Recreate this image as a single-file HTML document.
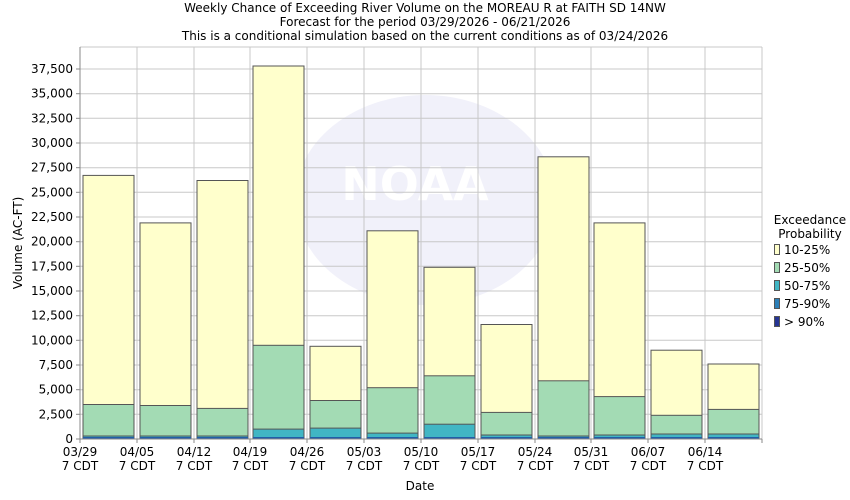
<!DOCTYPE html>
<html><head><meta charset="utf-8"><style>
html,body{margin:0;padding:0;background:#fff;}
svg{display:block;font-family:"DejaVu Sans","Liberation Sans",sans-serif;}
</style></head><body>
<svg width="850" height="500" viewBox="0 0 850 500" xmlns="http://www.w3.org/2000/svg">
<rect width="850" height="500" fill="#fff"/>
<g font-size="12" fill="#000" text-anchor="middle">
<text x="425" y="12">Weekly Chance of Exceeding River Volume on the MOREAU R at FAITH SD 14NW</text>
<text x="425" y="26">Forecast for the period 03/29/2026 - 06/21/2026</text>
<text x="425" y="40">This is a conditional simulation based on the current conditions as of 03/24/2026</text>
</g>
<!-- watermark -->
<g opacity="0.5">
<ellipse cx="425" cy="200" rx="130" ry="105" fill="#e4e4f6"/>
<text x="415" y="200" font-size="46" font-weight="bold" fill="#fff" text-anchor="middle">NOAA</text>
</g>
<!-- grid -->
<g stroke="#c8c8c8" stroke-width="1">
<line x1="80" x2="762" y1="414.3" y2="414.3"/><line x1="80" x2="762" y1="389.7" y2="389.7"/>
<line x1="80" x2="762" y1="365" y2="365"/><line x1="80" x2="762" y1="340.3" y2="340.3"/>
<line x1="80" x2="762" y1="315.7" y2="315.7"/><line x1="80" x2="762" y1="291" y2="291"/>
<line x1="80" x2="762" y1="266.3" y2="266.3"/><line x1="80" x2="762" y1="241.7" y2="241.7"/>
<line x1="80" x2="762" y1="217" y2="217"/><line x1="80" x2="762" y1="192.3" y2="192.3"/>
<line x1="80" x2="762" y1="167.7" y2="167.7"/><line x1="80" x2="762" y1="143" y2="143"/>
<line x1="80" x2="762" y1="118.3" y2="118.3"/><line x1="80" x2="762" y1="93.7" y2="93.7"/>
<line x1="80" x2="762" y1="69" y2="69"/>
<line x1="137" x2="137" y1="47" y2="439"/><line x1="194" x2="194" y1="47" y2="439"/>
<line x1="250" x2="250" y1="47" y2="439"/><line x1="307" x2="307" y1="47" y2="439"/>
<line x1="364" x2="364" y1="47" y2="439"/><line x1="421" x2="421" y1="47" y2="439"/>
<line x1="478" x2="478" y1="47" y2="439"/><line x1="535" x2="535" y1="47" y2="439"/>
<line x1="591" x2="591" y1="47" y2="439"/><line x1="648" x2="648" y1="47" y2="439"/>
<line x1="705" x2="705" y1="47" y2="439"/>
<line x1="80" x2="762" y1="47" y2="47"/><line x1="762" x2="762" y1="47" y2="439"/>
</g>
<!-- bars -->
<g stroke="#555" stroke-width="1">
<g fill="#ffffcc">
<rect x="83" y="175.4" width="51" height="263.6"/><rect x="140" y="222.9" width="51" height="216.1"/>
<rect x="197" y="180.5" width="51" height="258.5"/><rect x="253" y="66" width="51" height="373"/>
<rect x="310" y="346.3" width="51" height="92.7"/><rect x="367" y="230.8" width="51" height="208.2"/>
<rect x="424" y="267.3" width="51" height="171.7"/><rect x="481" y="324.5" width="51" height="114.5"/>
<rect x="538" y="156.8" width="51" height="282.2"/><rect x="594" y="222.9" width="51" height="216.1"/>
<rect x="651" y="350.2" width="51" height="88.8"/><rect x="708" y="364" width="51" height="75"/>
</g>
<g fill="#a3dbb4">
<rect x="83" y="404.5" width="51" height="34.5"/><rect x="140" y="405.5" width="51" height="33.5"/>
<rect x="197" y="408.4" width="51" height="30.6"/><rect x="253" y="345.3" width="51" height="93.7"/>
<rect x="310" y="400.5" width="51" height="38.5"/><rect x="367" y="387.7" width="51" height="51.3"/>
<rect x="424" y="375.8" width="51" height="63.2"/><rect x="481" y="412.4" width="51" height="26.6"/>
<rect x="538" y="380.8" width="51" height="58.2"/><rect x="594" y="396.6" width="51" height="42.4"/>
<rect x="651" y="415.3" width="51" height="23.7"/><rect x="708" y="409.4" width="51" height="29.6"/>
</g>
<g fill="#41b6c4">
<rect x="83" y="436" width="51" height="3"/><rect x="140" y="436" width="51" height="3"/>
<rect x="197" y="436" width="51" height="3"/><rect x="253" y="429.1" width="51" height="9.9"/>
<rect x="310" y="428.1" width="51" height="10.9"/><rect x="367" y="433.1" width="51" height="5.9"/>
<rect x="424" y="424.2" width="51" height="14.8"/><rect x="481" y="435" width="51" height="4"/>
<rect x="538" y="436" width="51" height="3"/><rect x="594" y="435" width="51" height="4"/>
<rect x="651" y="434" width="51" height="5"/><rect x="708" y="434" width="51" height="5"/>
</g>
</g>
<g fill="#225ea8">
<rect x="83" y="437" width="51" height="2"/><rect x="140" y="437" width="51" height="2"/>
<rect x="197" y="437" width="51" height="2"/><rect x="253" y="437" width="51" height="2"/>
<rect x="310" y="437" width="51" height="2"/><rect x="367" y="437" width="51" height="2"/>
<rect x="424" y="437" width="51" height="2"/><rect x="481" y="437" width="51" height="2"/>
<rect x="538" y="437" width="51" height="2"/><rect x="594" y="437" width="51" height="2"/>
<rect x="651" y="437" width="51" height="2"/><rect x="708" y="437" width="51" height="2"/>
</g>
<!-- axes -->
<g stroke="#888" stroke-width="1">
<line x1="80" x2="80" y1="47" y2="443"/><line x1="76" x2="762" y1="439" y2="439"/>
<line x1="76" x2="80" y1="414.3" y2="414.3"/><line x1="76" x2="80" y1="389.7" y2="389.7"/>
<line x1="76" x2="80" y1="365" y2="365"/><line x1="76" x2="80" y1="340.3" y2="340.3"/>
<line x1="76" x2="80" y1="315.7" y2="315.7"/><line x1="76" x2="80" y1="291" y2="291"/>
<line x1="76" x2="80" y1="266.3" y2="266.3"/><line x1="76" x2="80" y1="241.7" y2="241.7"/>
<line x1="76" x2="80" y1="217" y2="217"/><line x1="76" x2="80" y1="192.3" y2="192.3"/>
<line x1="76" x2="80" y1="167.7" y2="167.7"/><line x1="76" x2="80" y1="143" y2="143"/>
<line x1="76" x2="80" y1="118.3" y2="118.3"/><line x1="76" x2="80" y1="93.7" y2="93.7"/>
<line x1="76" x2="80" y1="69" y2="69"/>
<line x1="137" x2="137" y1="439" y2="443"/><line x1="194" x2="194" y1="439" y2="443"/>
<line x1="250" x2="250" y1="439" y2="443"/><line x1="307" x2="307" y1="439" y2="443"/>
<line x1="364" x2="364" y1="439" y2="443"/><line x1="421" x2="421" y1="439" y2="443"/>
<line x1="478" x2="478" y1="439" y2="443"/><line x1="535" x2="535" y1="439" y2="443"/>
<line x1="591" x2="591" y1="439" y2="443"/><line x1="648" x2="648" y1="439" y2="443"/>
<line x1="705" x2="705" y1="439" y2="443"/><line x1="762" x2="762" y1="439" y2="443"/>
</g>
<g font-size="12" text-anchor="end" fill="#000">
<text x="73" y="443">0</text><text x="73" y="418.3">2,500</text><text x="73" y="393.7">5,000</text>
<text x="73" y="369">7,500</text><text x="73" y="344.3">10,000</text><text x="73" y="319.7">12,500</text>
<text x="73" y="295">15,000</text><text x="73" y="270.3">17,500</text><text x="73" y="245.7">20,000</text>
<text x="73" y="221">22,500</text><text x="73" y="196.3">25,000</text><text x="73" y="171.7">27,500</text>
<text x="73" y="147">30,000</text><text x="73" y="122.3">32,500</text><text x="73" y="97.7">35,000</text>
<text x="73" y="73">37,500</text>
</g>
<g font-size="12" text-anchor="middle" fill="#000">
<text x="80" y="456">03/29</text><text x="80" y="470">7 CDT</text>
<text x="137" y="456">04/05</text><text x="137" y="470">7 CDT</text>
<text x="194" y="456">04/12</text><text x="194" y="470">7 CDT</text>
<text x="250" y="456">04/19</text><text x="250" y="470">7 CDT</text>
<text x="307" y="456">04/26</text><text x="307" y="470">7 CDT</text>
<text x="364" y="456">05/03</text><text x="364" y="470">7 CDT</text>
<text x="421" y="456">05/10</text><text x="421" y="470">7 CDT</text>
<text x="478" y="456">05/17</text><text x="478" y="470">7 CDT</text>
<text x="535" y="456">05/24</text><text x="535" y="470">7 CDT</text>
<text x="591" y="456">05/31</text><text x="591" y="470">7 CDT</text>
<text x="648" y="456">06/07</text><text x="648" y="470">7 CDT</text>
<text x="705" y="456">06/14</text><text x="705" y="470">7 CDT</text>
<text x="420" y="490">Date</text>
<text transform="translate(22,243) rotate(-90)">Volume (AC-FT)</text>
</g>
<!-- legend -->
<g font-size="12" fill="#000">
<text x="810" y="224" text-anchor="middle">Exceedance</text>
<text x="810" y="238" text-anchor="middle">Probability</text>
<g stroke="#555" stroke-width="1">
<rect x="774.5" y="244.5" width="5" height="10" fill="#ffffcc"/>
<rect x="774.5" y="262.5" width="5" height="10" fill="#a3dbb4"/>
<rect x="774.5" y="280.5" width="5" height="10" fill="#41b6c4"/>
<rect x="774.5" y="298.5" width="5" height="10" fill="#2c7fb8"/>
<rect x="774.5" y="316.5" width="5" height="10" fill="#253494"/>
</g>
<text x="784" y="254">10-25%</text>
<text x="784" y="272">25-50%</text>
<text x="784" y="290">50-75%</text>
<text x="784" y="308">75-90%</text>
<text x="784" y="326">&gt; 90%</text>
</g>
</svg>
</body></html>
